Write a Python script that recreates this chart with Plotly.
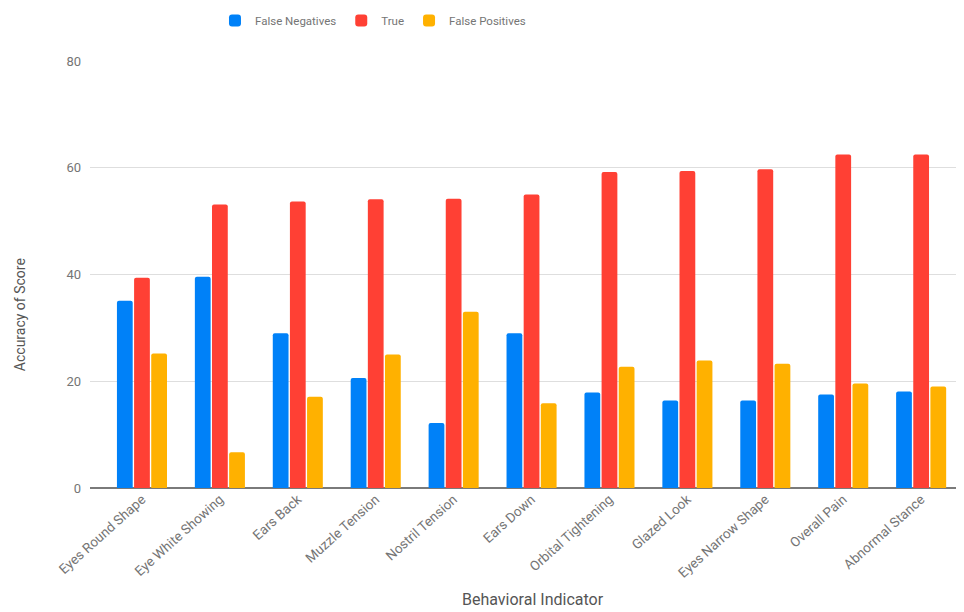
import plotly.graph_objects as go

categories = ["Eyes Round Shape", "Eye White Showing", "Ears Back", "Muzzle Tension",
              "Nostril Tension", "Ears Down", "Orbital Tightening", "Glazed Look",
              "Eyes Narrow Shape", "Overall Pain", "Abnormal Stance"]
false_negatives = [35.1, 39.6, 29.0, 20.6, 12.2, 29.0, 17.9, 16.4, 16.4, 17.5, 18.1]
true_vals = [39.4, 53.1, 53.7, 54.1, 54.2, 55.0, 59.2, 59.4, 59.7, 62.5, 62.5]
false_positives = [25.2, 6.7, 17.1, 25.0, 33.0, 15.9, 22.7, 23.9, 23.3, 19.6, 19.0]
y_ticks = [0, 20, 40, 60, 80]

series = [("False Negatives", false_negatives, "#0081f8"),
          ("True", true_vals, "#ff4034"),
          ("False Positives", false_positives, "#ffb100")]

fig = go.Figure()
for name, vals, col in series:
    fig.add_trace(go.Bar(x=categories, y=vals, name=name, marker_color=col,
                         marker_line_width=0))

grey = "#757575"
fig.update_layout(
    width=956, height=604,
    margin=dict(l=82, r=0, t=53, b=124, autoexpand=False),
    plot_bgcolor="white", paper_bgcolor="white",
    font=dict(family="Roboto", color=grey, size=13),
    barmode="group", bargap=0.34, bargroupgap=0.08, barcornerradius=2,
    legend=dict(orientation="h", x=0.143, xanchor="left", y=1.129, yanchor="top",
                font=dict(size=11.5, color=grey), itemwidth=30, traceorder="normal"),
    showlegend=True,
)
fig.update_xaxes(range=[-0.667, 10.55], tickangle=-42, showgrid=False, automargin=False,
                 showline=False, ticks="", tickfont=dict(size=13.5, color=grey))
fig.update_yaxes(range=[0, 80], tickvals=y_ticks, showgrid=True, gridcolor="#dedede",
                 gridwidth=1, zeroline=True, zerolinecolor="#7a7a7a", zerolinewidth=2,
                 automargin=False, ticks="", ticklabelstandoff=8,
                 tickfont=dict(size=13, color=grey))
fig.add_annotation(text="Behavioral Indicator", xref="paper", yref="paper",
                   x=0.507, y=-0.262, xanchor="center", yanchor="middle", showarrow=False,
                   font=dict(size=16, color="#555555"))
fig.add_annotation(text="Accuracy of Score", xref="paper", yref="paper",
                   x=-0.08, xanchor="center", y=0.405, yanchor="middle", textangle=-90,
                   showarrow=False, font=dict(size=14, color="#555555"))

fig.write_html("out.html")
